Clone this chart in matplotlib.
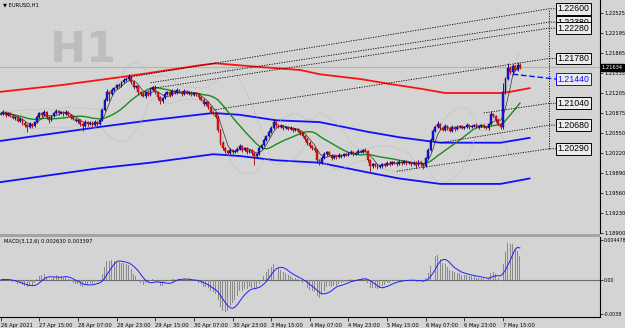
import matplotlib
matplotlib.use('Agg')
import matplotlib.pyplot as plt
import numpy as np
import pandas as pd
from matplotlib.patches import Rectangle

# EURUSD H1 closes, one row per 16 bars (26 Apr 23:00 ... 7 May 22:00)
closes = [
    1.2086, 1.2090, 1.2085, 1.2088, 1.2083, 1.2080, 1.2081, 1.2075, 1.2078, 1.2072, 1.2068, 1.2065, 1.2070, 1.2067, 1.2073, 1.2081,
    1.2088, 1.2085, 1.2090, 1.2081, 1.2076, 1.2083, 1.2088, 1.2091, 1.2088, 1.2090, 1.2086, 1.2090, 1.2085, 1.2081, 1.2078, 1.2075,
    1.2076, 1.2070, 1.2067, 1.2073, 1.2070, 1.2072, 1.2068, 1.2073, 1.2070, 1.2076, 1.2093, 1.2110, 1.2123, 1.2119, 1.2126, 1.2129,
    1.2134, 1.2133, 1.2139, 1.2143, 1.2144, 1.2147, 1.2139, 1.2131, 1.2133, 1.2123, 1.2119, 1.2116, 1.2123, 1.2118, 1.2126, 1.2131,
    1.2123, 1.2114, 1.2108, 1.2113, 1.2119, 1.2123, 1.2118, 1.2124, 1.2121, 1.2126, 1.2123, 1.2119, 1.2124, 1.2121, 1.2123, 1.2118,
    1.2121, 1.2119, 1.2114, 1.2110, 1.2103, 1.2106, 1.2098, 1.2090, 1.2086, 1.2081, 1.2060, 1.2039, 1.2030, 1.2025, 1.2022, 1.2027,
    1.2024, 1.2025, 1.2029, 1.2034, 1.2027, 1.2030, 1.2024, 1.2027, 1.2022, 1.2017, 1.2020, 1.2030, 1.2035, 1.2043, 1.2050, 1.2057,
    1.2063, 1.2073, 1.2068, 1.2065, 1.2067, 1.2063, 1.2065, 1.2062, 1.2063, 1.2060, 1.2062, 1.2058, 1.2055, 1.2050, 1.2045, 1.2039,
    1.2034, 1.2030, 1.2027, 1.2010, 1.2006, 1.2014, 1.2020, 1.2024, 1.2019, 1.2014, 1.2017, 1.2015, 1.2019, 1.2017, 1.2020, 1.2019,
    1.2022, 1.2024, 1.2020, 1.2022, 1.2025, 1.2024, 1.2027, 1.2025, 1.2010, 1.2001, 1.2004, 1.2002, 1.1999, 1.2001, 1.2004, 1.2002,
    1.2006, 1.2004, 1.2007, 1.2006, 1.2004, 1.2007, 1.2006, 1.2009, 1.2006, 1.2007, 1.2004, 1.2006, 1.2002, 1.2007, 1.2004, 1.2001,
    1.2014, 1.2027, 1.2043, 1.2058, 1.2065, 1.2070, 1.2063, 1.2060, 1.2067, 1.2063, 1.2058, 1.2065, 1.2062, 1.2065, 1.2067, 1.2063,
    1.2065, 1.2068, 1.2065, 1.2067, 1.2068, 1.2065, 1.2067, 1.2068, 1.2065, 1.2063, 1.2070, 1.2086, 1.2083, 1.2076, 1.2070, 1.2065,
    1.2123, 1.2144, 1.2162, 1.2156, 1.2166, 1.2159, 1.2167, 1.2163,
]
first_open = 1.2088

# wick lengths beyond the body, in pips
wick_up = [
    2, 3, 2, 2, 2, 3, 2, 2, 3, 2, 2, 2, 3, 2, 2, 3,
    2, 2, 3, 2, 2, 2, 2, 3, 2, 2, 2, 3, 2, 2, 2, 2,
    2, 2, 2, 3, 2, 2, 2, 3, 2, 2, 3, 2, 4, 2, 3, 2,
    2, 3, 2, 2, 3, 5, 2, 3, 2, 2, 2, 3, 2, 3, 4, 2,
    3, 2, 2, 2, 3, 2, 2, 3, 2, 3, 2, 2, 3, 2, 2, 2,
    2, 2, 2, 2, 2, 2, 2, 2, 2, 3, 3, 2, 3, 2, 2, 3,
    2, 2, 3, 3, 2, 2, 2, 2, 2, 2, 2, 3, 2, 3, 2, 3,
    3, 5, 2, 2, 3, 2, 2, 2, 3, 2, 2, 2, 2, 2, 2, 2,
    2, 2, 2, 2, 2, 3, 3, 2, 2, 2, 2, 2, 3, 2, 2, 2,
    2, 3, 2, 2, 3, 2, 2, 4, 2, 2, 2, 2, 2, 2, 2, 2,
    3, 2, 2, 2, 2, 3, 2, 2, 2, 2, 2, 2, 2, 3, 2, 2,
    2, 3, 3, 3, 3, 4, 2, 2, 3, 2, 2, 3, 2, 3, 2, 2,
    2, 3, 2, 2, 2, 3, 2, 2, 2, 2, 2, 5, 2, 2, 2, 2,
    14, 3, 8, 3, 3, 2, 5, 3,
]
wick_dn = [
    2, 2, 3, 2, 2, 2, 3, 2, 2, 3, 3, 8, 2, 3, 2, 2,
    2, 3, 2, 3, 4, 2, 2, 2, 3, 2, 3, 2, 2, 3, 2, 2,
    3, 3, 9, 2, 3, 2, 3, 2, 3, 2, 2, 2, 3, 12, 2, 2,
    2, 2, 2, 2, 2, 2, 3, 3, 2, 4, 3, 2, 3, 2, 2, 2,
    3, 4, 5, 3, 2, 2, 3, 2, 2, 2, 2, 3, 2, 2, 3, 2,
    2, 3, 3, 2, 3, 2, 3, 2, 2, 2, 3, 4, 3, 3, 2, 2,
    3, 2, 2, 2, 3, 2, 3, 2, 3, 15, 3, 2, 2, 2, 2, 2,
    2, 2, 3, 2, 2, 3, 2, 2, 2, 3, 2, 2, 3, 2, 3, 3,
    3, 3, 3, 5, 4, 2, 2, 3, 2, 3, 2, 3, 2, 3, 2, 2,
    2, 2, 3, 2, 2, 2, 2, 2, 3, 10, 3, 3, 3, 2, 3, 3,
    2, 3, 2, 2, 3, 2, 3, 2, 3, 2, 3, 2, 4, 2, 3, 6,
    2, 2, 2, 2, 2, 2, 3, 2, 2, 3, 2, 2, 3, 2, 2, 2,
    2, 2, 3, 2, 2, 2, 3, 2, 2, 2, 3, 2, 2, 3, 2, 3,
    3, 3, 2, 3, 5, 2, 2, 2,
]

# long moving average (red) and envelope (blue), read at a few bars
red_bars = [0, 25, 53, 83, 89, 107, 124, 132, 149, 161, 174, 184, 207, 211, 219]
red_vals = [1.2123, 1.2134, 1.2149, 1.2167, 1.2170, 1.2164, 1.2159, 1.2152, 1.2144,
            1.2136, 1.2128, 1.2121, 1.2121, 1.2123, 1.2129]
band_bars = [0, 41, 62, 88, 99, 114, 132, 152, 165, 182, 207, 219]
band_upper = [1.2042, 1.2065, 1.2076, 1.2088, 1.2085, 1.2076, 1.2073, 1.2057, 1.2048, 1.2039, 1.2039, 1.2047]
band_lower = [1.1974, 1.1997, 1.2006, 1.2020, 1.2017, 1.2010, 1.2006, 1.1990, 1.1980, 1.1971, 1.1971, 1.1980]

# trend lines ending in labelled levels
trend_levels = [1.2260, 1.2238, 1.2228, 1.2178, 1.2144, 1.2104, 1.2068, 1.2029]
trend_from_bar = [53, 62, 62, 88, 212, 200, 182, 164]
trend_from_price = [1.2147, 1.2138, 1.2128, 1.2093, 1.2152, 1.2088, 1.2039, 1.1992]
highlight_level = 1.2144

last_price = 1.21634
price_ticks = [1.22525, 1.22195, 1.21865, 1.21535, 1.21205, 1.20875, 1.20550, 1.20220, 1.19890, 1.19560, 1.19230, 1.18900]
price_tick_labels = ['1.22525', '1.22195', '1.21865', '1.21535', '1.21205', '1.20875', '1.20550', '1.20220',
                     '1.19890', '1.19560', '1.19230', '1.18900']
macd_ticks = [0.004478, 0.0, -0.0038]
macd_tick_labels = ['0.004478', '0.00', '-0.0038']
macd_title = 'MACD(3,12,6) 0.002630 0.003397'

date_bars = [0, 16, 32, 48, 64, 80, 96, 112, 128, 144, 160, 176, 192, 208]
date_labels = ['26 Apr 2021', '27 Apr 15:00', '28 Apr 07:00', '28 Apr 23:00', '29 Apr 15:00', '30 Apr 07:00',
               '30 Apr 23:00', '3 May 15:00', '4 May 07:00', '4 May 23:00', '5 May 15:00', '6 May 07:00',
               '6 May 23:00', '7 May 15:00']

BG = '#d4d4d4'
W, H = 625, 328
BAR_PX = 2.415
FS = 3.7


def px_rect(x0, y0, x1, y1):
    return [x0 / W, 1 - y1 / H, (x1 - x0) / W, (y1 - y0) / H]


close = np.array(closes)
opens = np.r_[first_open, close[:-1]]
high = np.maximum(opens, close) + np.array(wick_up) * 0.0001
low = np.minimum(opens, close) - np.array(wick_dn) * 0.0001
idx = np.arange(len(close))

s = pd.Series(close)
fast_ma = s.rolling(5, min_periods=1).mean()
mid = s.rolling(20, min_periods=1).mean()
dev = s.rolling(20, min_periods=1).std(ddof=0)
macd = s.ewm(span=3, adjust=False).mean() - s.ewm(span=12, adjust=False).mean()
signal = macd.rolling(6, min_periods=1).mean()

fig = plt.figure(figsize=(W / 100, H / 100), dpi=100, facecolor=BG)
ax = fig.add_axes(px_rect(0, 0, 600, 233))
ax2 = fig.add_axes(px_rect(0, 237, 600, 317), sharex=ax)
x0 = -0.7 / BAR_PX
ax.set_xlim(x0, x0 + 600 / BAR_PX)
ax.set_ylim(1.18900, 1.18900 + 233 * 0.000165)
ax2.set_ylim(-37 * 0.000112, 43 * 0.000112)

for a in (ax, ax2):
    a.set_facecolor(BG)
    for side in ('left', 'top', 'bottom'):
        a.spines[side].set_visible(False)
    a.spines['right'].set_linewidth(0.8)
    a.yaxis.tick_right()
    a.tick_params(axis='y', labelsize=FS, length=2, width=0.5, pad=1)
ax2.tick_params(axis='y', pad=0.5)
ax2.spines['bottom'].set_visible(True)
ax2.spines['bottom'].set_linewidth(0.8)

# watermark and symbol
ax.text(50 / 600, 1 - 62 / 233, 'H1', transform=ax.transAxes, fontsize=31, fontweight='bold',
        color='#bdbdbd', va='baseline', ha='left', zorder=0.5)
ax.text(3 / 600, 1 - 2 / 233, '\u25bc EURUSD,H1', transform=ax.transAxes, fontsize=FS, va='top', ha='left')

ax.axhline(last_price, color='#b3b3b3', lw=0.8, zorder=1)

# indicators
ax.plot(red_bars, red_vals, color='#ff1010', lw=1.3, zorder=2)
ax.plot(band_bars, band_upper, color='#1010ff', lw=1.3, zorder=2)
ax.plot(band_bars, band_lower, color='#1010ff', lw=1.3, zorder=2)
ax.plot(idx, mid + 2 * dev, color='#b6b6b6', lw=0.6, ls=(0, (1.5, 1.5)), zorder=2)
ax.plot(idx, mid - 2 * dev, color='#b6b6b6', lw=0.6, ls=(0, (1.5, 1.5)), zorder=2)
ax.plot(idx, mid, color='#1a8c1a', lw=1.0, zorder=3)
ax.plot(idx, fast_ma, color='#303030', lw=0.5, zorder=4)

# candles
up = close >= opens
body_lo = np.minimum(opens, close)
body_h = np.maximum(np.abs(close - opens), 0.00004)
ax.vlines(idx[up], low[up], high[up], color='#000070', lw=0.6, zorder=5)
ax.vlines(idx[~up], low[~up], high[~up], color='#900000', lw=0.6, zorder=5)
ax.bar(idx[up], body_h[up], 0.75, bottom=body_lo[up], color='#1818f0', edgecolor='#000070', lw=0.3, zorder=6)
ax.bar(idx[~up], body_h[~up], 0.75, bottom=body_lo[~up], color='#e81818', edgecolor='#900000', lw=0.3, zorder=6)

# trend lines and level boxes
anchor_bar = (549 - 0.7) / BAR_PX
box_bar = (556 - 0.7) / BAR_PX
for lvl, b0, p0 in zip(trend_levels, trend_from_bar, trend_from_price):
    if lvl == highlight_level:
        ax.plot([b0, box_bar], [p0, lvl], color='#1010ff', lw=1.0, ls=(0, (4, 2)), zorder=7)
        ec, tc = '#1010ff', '#1010ff'
    else:
        ax.plot([b0, anchor_bar, box_bar], [p0, lvl, lvl], color='black', lw=0.6, ls=(0, (1.5, 1.5)), zorder=7)
        ec, tc = 'black', 'black'
    ax.text(box_bar + 0.6, lvl, f'{lvl:.5f}', fontsize=6.3, family='Liberation Sans', color=tc,
            va='center', ha='left', zorder=8,
            bbox=dict(boxstyle='square,pad=0.15', fc='#ececec', ec=ec, lw=0.7))
ax.plot([anchor_bar, anchor_bar], [min(trend_levels), max(trend_levels)], color='black', lw=0.6,
        ls=(0, (1.5, 1.5)), zorder=7)

ax.set_yticks(price_ticks)
ax.set_yticklabels(price_tick_labels)
ax.text(1.003, last_price, f'{last_price:.5f}', transform=ax.get_yaxis_transform(), fontsize=FS,
        color='white', va='center', ha='left', clip_on=False, zorder=9,
        bbox=dict(boxstyle='square,pad=0.2', fc='black', ec='black'))
ax.tick_params(axis='x', bottom=False, labelbottom=False)

# MACD panel
ax2.axhline(0, color='#6a6a6a', lw=0.8, zorder=1)
ax2.bar(idx, macd, 0.4, color='#8a8a8a', zorder=2)
ax2.plot(idx, signal, color='#2020ff', lw=0.7, zorder=3)
ax2.text(4 / 600, 1 - 2 / 80, macd_title, transform=ax2.transAxes, fontsize=FS, va='top', ha='left')
ax2.set_yticks(macd_ticks)
ax2.set_yticklabels(macd_tick_labels, fontsize=3.4)
ax2.set_xticks(date_bars)
ax2.set_xticklabels(date_labels, ha='left')
ax2.tick_params(axis='x', labelsize=FS, length=3, width=0.5, pad=1.5)

# panel separator
fig.patches.append(Rectangle((0, 1 - 237 / H), 600 / W, 3.5 / H, transform=fig.transFigure,
                             fc='#a4a4a4', ec='none'))

fig.savefig('out.png', dpi=100, facecolor=BG)
